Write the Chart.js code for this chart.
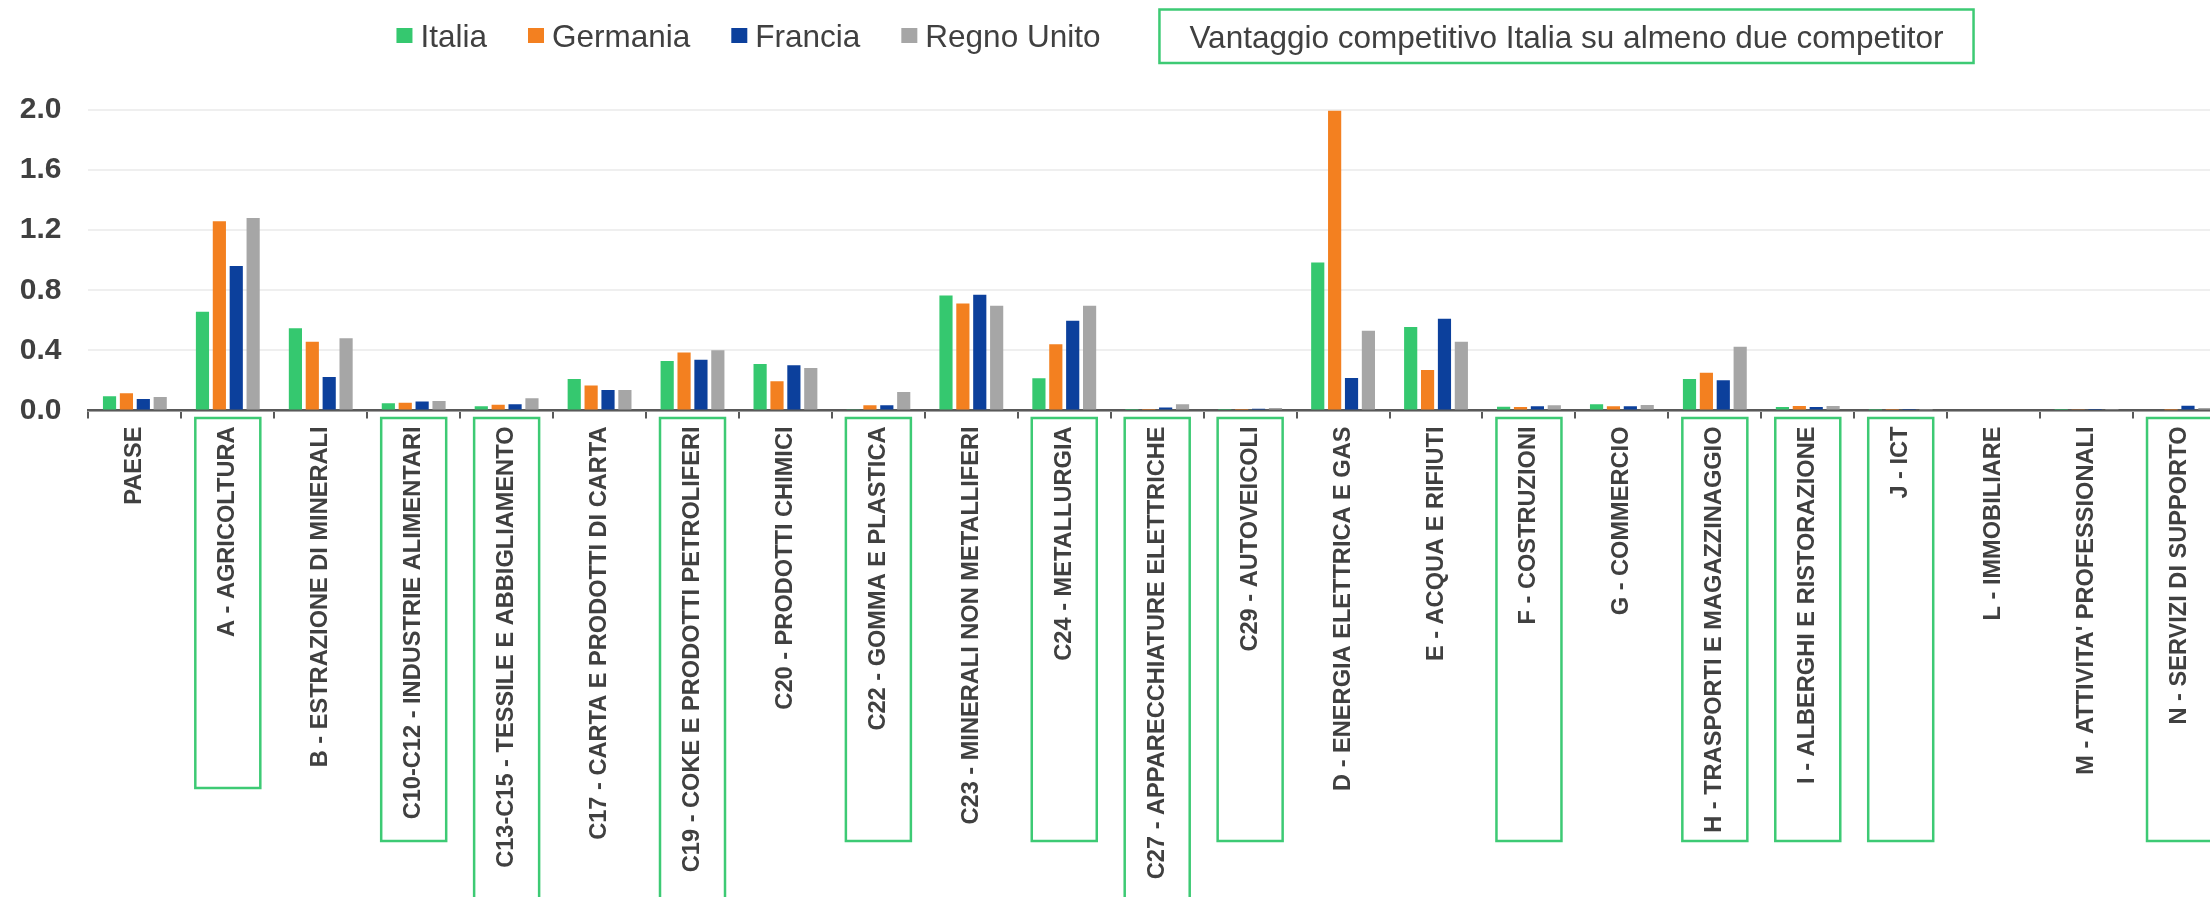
<!DOCTYPE html>
<html>
<head>
<meta charset="utf-8">
<script src="https://cdn.jsdelivr.net/npm/chart.js@4.4.1/dist/chart.umd.min.js"></script>
<style>
html,body{margin:0;padding:0;overflow:hidden;background:#fff;width:2210px;height:897px}
canvas{display:block}
</style>
</head>
<body>
<canvas id="c" width="2240" height="897" style="width:2240px;height:897px"></canvas>
<script>
// ---------- DATA ----------
const categories = [
  'PAESE',
  'A - AGRICOLTURA',
  'B - ESTRAZIONE DI MINERALI',
  'C10-C12 - INDUSTRIE ALIMENTARI',
  'C13-C15 - TESSILE E ABBIGLIAMENTO',
  'C17 - CARTA E PRODOTTI DI CARTA',
  'C19 - COKE E PRODOTTI PETROLIFERI',
  'C20 - PRODOTTI CHIMICI',
  'C22 - GOMMA E PLASTICA',
  'C23 - MINERALI NON METALLIFERI',
  'C24 - METALLURGIA',
  'C27 - APPARECCHIATURE ELETTRICHE',
  'C29 - AUTOVEICOLI',
  'D - ENERGIA ELETTRICA E GAS',
  'E - ACQUA E RIFIUTI',
  'F - COSTRUZIONI',
  'G - COMMERCIO',
  'H - TRASPORTI E MAGAZZINAGGIO',
  'I - ALBERGHI E RISTORAZIONE',
  'J - ICT',
  'L - IMMOBILIARE',
  "M - ATTIVITA' PROFESSIONALI",
  'N - SERVIZI DI SUPPORTO'
];
const seriesNames = ['Italia', 'Germania', 'Francia', 'Regno Unito'];
const italia   = [0.095, 0.657, 0.548, 0.048, 0.028, 0.210, 0.330, 0.310, 0.008, 0.766, 0.214, 0.010, 0.004, 0.985, 0.555, 0.025, 0.042, 0.210, 0.023, 0.002, 0, 0.003, 0.006];
const germania = [0.115, 1.259, 0.457, 0.052, 0.038, 0.166, 0.386, 0.194, 0.035, 0.712, 0.441, 0.010, 0.010, 1.995, 0.269, 0.023, 0.028, 0.252, 0.030, 0.004, 0, 0.009, 0.002];
const francia  = [0.077, 0.961, 0.223, 0.060, 0.042, 0.137, 0.337, 0.301, 0.035, 0.770, 0.597, 0.020, 0.012, 0.217, 0.611, 0.028, 0.028, 0.202, 0.023, 0.003, 0, 0.003, 0.032];
const regnoUnito = [0.090, 1.281, 0.481, 0.064, 0.081, 0.137, 0.401, 0.283, 0.123, 0.697, 0.697, 0.041, 0.016, 0.530, 0.457, 0.035, 0.037, 0.424, 0.030, 0.002, 0, 0.003, 0.016];
// categories where Italy has a competitive advantage over at least two competitors
const highlighted = [0,1,0,1,1,0,1,0,1,0,1,1,1,0,0,1,0,1,1,1,0,0,1];
const noteText = 'Vantaggio competitivo Italia su almeno due competitor';
const yMin = 0, yMax = 2.0, yStep = 0.4;

// ---------- STYLE ----------
const FONT = "'Liberation Sans', Arial, Helvetica, sans-serif";
const colors = ['#35C86F', '#F38020', '#0C409C', '#A6A6A6'];
const textColor = '#404040';
const boxGreen = '#3DCA74';

const decorations = {
  id: 'decorations',
  afterDraw(chart, args, opts) {
    const ctx = chart.ctx;
    ctx.save();
    // ---- legend ----
    ctx.font = `${opts.legendFontSize}px ${FONT}`;
    ctx.textBaseline = 'alphabetic';
    ctx.textAlign = 'left';
    const items = chart.data.datasets.map(d => ({ label: d.label, color: d.backgroundColor, w: ctx.measureText(d.label).width }));
    const noteW = ctx.measureText(opts.note).width;
    let total = 0;
    items.forEach((it, i) => { total += 16 + 8 + it.w + (i < items.length - 1 ? 41 : 0); });
    total += 59 + 30 + noteW + 30;
    let x = opts.legendCenterX - total / 2;
    items.forEach((it, i) => {
      ctx.fillStyle = it.color;
      ctx.fillRect(x, 28, 16, 15);
      ctx.fillStyle = textColor;
      ctx.fillText(it.label, x + 24, 46.5);
      x += 24 + it.w + (i < items.length - 1 ? 41 : 0);
    });
    const boxL = x + 59;
    ctx.strokeStyle = boxGreen;
    ctx.lineWidth = 2.5;
    ctx.strokeRect(boxL, 9.5, 30 + noteW + 30, 53.5);
    ctx.fillStyle = textColor;
    ctx.fillText(opts.note, boxL + 30, 48.3);

    // ---- highlight boxes around category labels ----
    const xs = chart.scales.x;
    const ca = chart.chartArea;
    ctx.font = `bold ${opts.xFontSize}px ${FONT}`;
    const top = ca.bottom + 7.5;
    highlighted.forEach((h, i) => {
      if (!h) return;
      const cx = xs.getPixelForValue(i);
      const len = ctx.measureText(categories[i]).width;
      const textEnd = ca.bottom + 16 + len;
      let bottom = (opts.boxBottomOverride && opts.boxBottomOverride[i] !== undefined)
        ? opts.boxBottomOverride[i]
        : (textEnd + 5 <= 843 ? 841 : chart.height + 20);
      ctx.strokeRect(cx - 32.5, top, 65, bottom - top);
    });
    ctx.restore();
  }
};

const datasets = [italia, germania, francia, regnoUnito].map((vals, i) => ({
  label: seriesNames[i],
  data: vals,
  backgroundColor: colors[i],
  borderWidth: 0,
  categoryPercentage: 0.727,
  barPercentage: 0.78
}));

const X_FONT = 23.6;

new Chart(document.getElementById('c'), {
  type: 'bar',
  data: { labels: categories, datasets },
  plugins: [decorations],
  options: {
    responsive: false,
    animation: false,
    devicePixelRatio: 1,
    layout: { padding: { top: 110, left: 0, right: 14, bottom: 0 } },
    plugins: {
      legend: { display: false },
      tooltip: { enabled: false },
      decorations: {
        legendFontSize: 31.5,
        legendCenterX: 1185,
        note: noteText,
        xFontSize: X_FONT,
        boxBottomOverride: { 1: 788 }
      }
    },
    scales: {
      x: {
        grid: { offset: true, drawOnChartArea: false, drawTicks: true, tickLength: 8, color: '#595959', lineWidth: 2 },
        border: { display: true, color: '#595959', width: 2.5 },
        ticks: {
          autoSkip: false, minRotation: 90, maxRotation: 90, padding: 8,
          color: textColor, font: { family: FONT, size: X_FONT, weight: 'bold' }
        },
        afterFit(scale) { scale.height = 897 - 410.5; }
      },
      y: {
        min: yMin, max: yMax,
        ticks: {
          stepSize: yStep, padding: 27, color: textColor,
          font: { family: FONT, size: 30, weight: 'bold' },
          callback: v => Number(v).toFixed(1)
        },
        grid: { color: '#EFEFEF', lineWidth: 2, drawTicks: false },
        border: { display: false },
        afterFit(scale) { scale.width = 88.4; }
      }
    }
  }
});
</script>
</body>
</html>
